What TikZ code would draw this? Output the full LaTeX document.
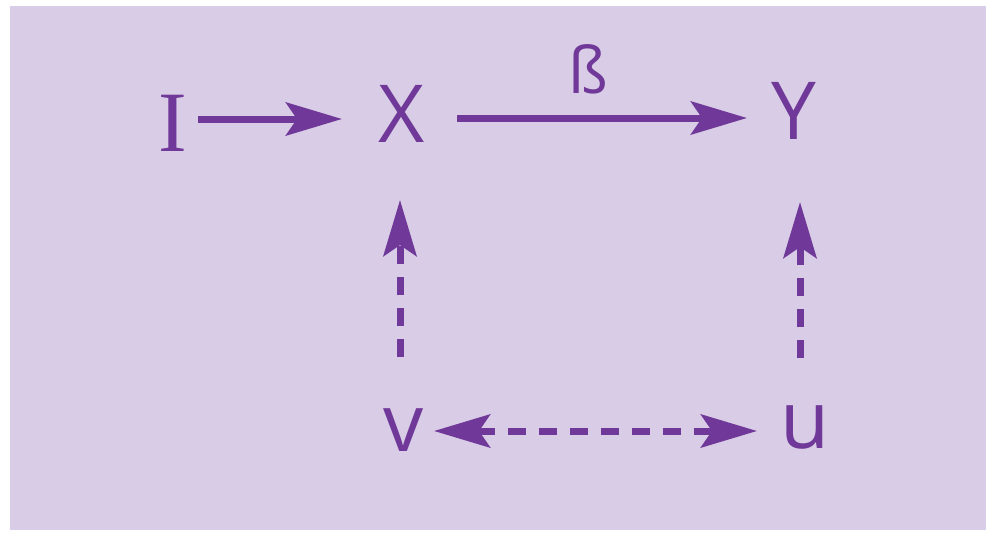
\documentclass[tikz,border=0pt]{standalone}
\usepackage{fontspec}
\setmainfont{Open Sans}
\newfontfamily\serifface{Liberation Serif}
\usetikzlibrary{arrows.meta}

\definecolor{panel}{HTML}{D8CCE6}
\definecolor{ink}{HTML}{703898}

\tikzset{
  lbl/.style={inner sep=0pt, text=ink, font=\fontsize{80}{92}\selectfont},
  ilbl/.style={inner sep=0pt, text=ink, font=\serifface\fontsize{86}{100}\selectfont},
  blbl/.style={inner sep=0pt, text=ink, font=\fontsize{64}{76}\selectfont},
  tip/.tip={Stealth[length=56pt,width=33pt,inset=11pt]},
  link/.style={draw=ink, line width=7pt, -tip},
  hidden link/.style={draw=ink, line width=7pt, dash pattern=on 18pt off 13pt},
}

\begin{document}
\begin{tikzpicture}[x=1pt,y=-1pt]
  % page and panel
  \useasboundingbox (0,0) rectangle (986,533);
  \fill[white] (0,0) rectangle (986,533);
  \fill[panel] (10,6) rectangle (986,530);

  % variables
  \node[ilbl] (I) at (172.5,123.5) {I};
  \node[lbl]  (X) at (402,113.5) {X};
  \node[lbl]  (Y) at (794,111) {Y};
  \node[blbl] (b) at (588,69) {ß};
  \node[lbl]  (v) at (404,430) {v};
  \node[lbl]  (u) at (805,427.5) {u};

  % causal paths
  \draw[link] ([shift={(25.5,-4.5)}]I.center) -- ([shift={(-60,5.5)}]X.center);
  \draw[link] ([shift={(55,4.5)}]X.center) -- ([shift={(-47,7)}]Y.center);

  % unobserved confounding
  \draw[hidden link, -tip] ([shift={(-4,-73)}]v.center) -- ([shift={(-2,86.5)}]X.center);
  \draw[hidden link, -tip] ([shift={(-5,-69.5)}]u.center) -- ([shift={(6,91)}]Y.center);
  \draw[hidden link, tip-tip] ([shift={(30,1)}]v.center) -- ([shift={(-48,3.5)}]u.center);
\end{tikzpicture}
\end{document}
